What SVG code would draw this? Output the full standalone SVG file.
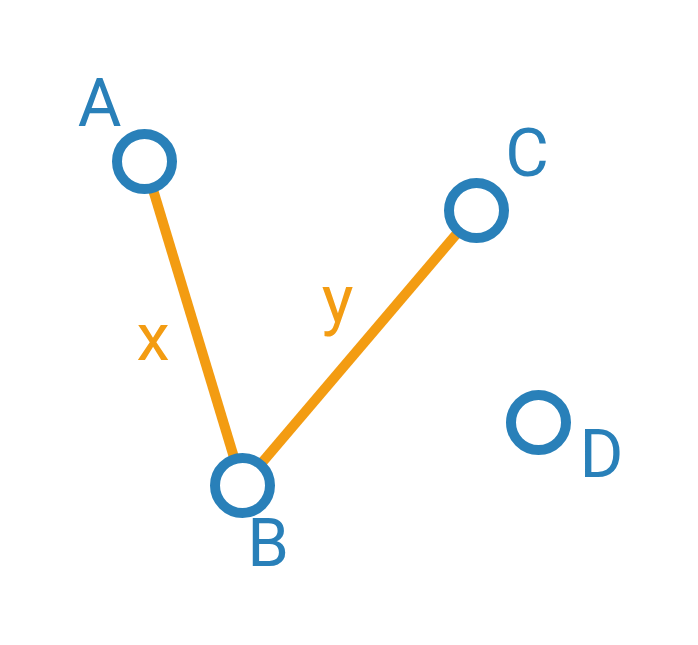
<svg xmlns="http://www.w3.org/2000/svg" width="698" height="645" viewBox="0 0 698 645">
<style>
.edge{stroke:#f39c12;stroke-width:10;fill:none}
.node circle{fill:#ffffff;stroke:#2980b9;stroke-width:10}
.nl{fill:#2980b9;font-family:Roboto,"Liberation Sans",sans-serif;font-size:67px;text-anchor:middle}
.el{fill:#f39c12;font-family:Roboto,"Liberation Sans",sans-serif;font-size:67px;text-anchor:middle}
</style>
<rect width="698" height="645" fill="#ffffff"/>
<g id="connectors">
<line class="edge" x1="144.5" y1="161.5" x2="242.5" y2="485.5"/>
<line class="edge" x1="242.5" y1="485.5" x2="476.5" y2="210.5"/>
<text class="el" x="153" y="360">x</text>
<text class="el" x="337.5" y="322">y</text>
</g>
<g id="A" class="node"><circle cx="144.5" cy="161.5" r="27.5"/><text class="nl" x="99.5" y="126">A</text></g>
<g id="B" class="node"><circle cx="242.5" cy="485.5" r="27.5"/><text class="nl" x="268" y="566">B</text></g>
<g id="C" class="node"><circle cx="476.5" cy="210.5" r="27.5"/><text class="nl" x="527" y="176">C</text></g>
<g id="D" class="node"><circle cx="538.5" cy="422.5" r="27.5"/><text class="nl" x="601.5" y="477">D</text></g>
</svg>
